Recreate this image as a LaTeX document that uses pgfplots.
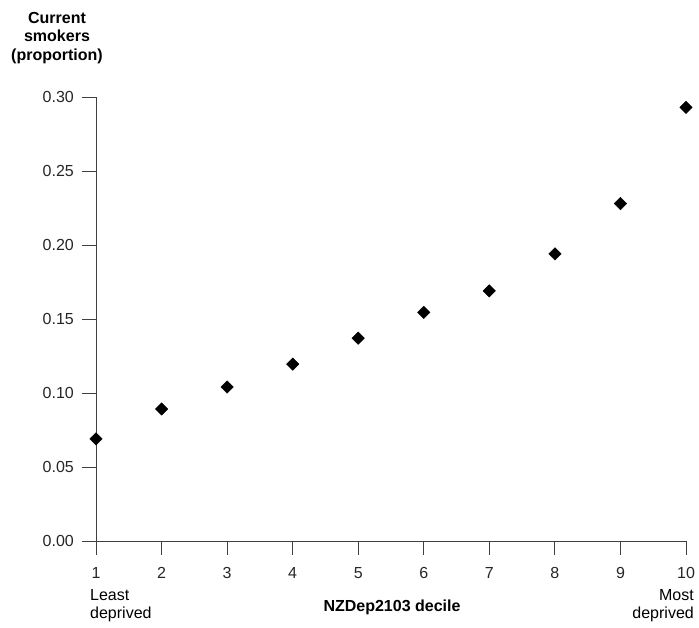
\documentclass[border=0pt]{standalone}
\usepackage{pgfplots}
\pgfplotsset{compat=1.18}
\usepackage{fontspec}
\setmainfont{Liberation Sans}
\definecolor{axgray}{HTML}{404040}
\begin{document}
\begin{tikzpicture}[x=1bp,y=1bp]
\useasboundingbox (0,0) rectangle (699,628);
\begin{axis}[
  at={(96bp,87bp)}, anchor=origin,
  scale only axis, width=590bp, height=444bp,
  xmin=1, xmax=10, ymin=0, ymax=0.30,
  axis x line=bottom, axis y line=left,
  axis line style={axgray, line width=0.9bp, -},
  xtick={1,2,3,4,5,6,7,8,9,10},
  xticklabel={\pgfmathparse{int(round(\tick))}\pgfmathresult},
  ytick={0,0.05,0.10,0.15,0.20,0.25,0.30},
  yticklabels={0.00,0.05,0.10,0.15,0.20,0.25,0.30},
  tick align=outside, major tick length=14bp,
  tick style={axgray, line width=0.9bp},
  ticklabel style={font=\fontsize{16bp}{18bp}\selectfont, text=black!85},
  x tick label style={inner sep=0pt, yshift=-12bp},
  y tick label style={inner sep=0pt, xshift=-8bp},
  clip=false,
]
\addplot[only marks, mark=square*, mark size=4.4bp, mark options={rotate=45, fill=black, draw=black}]
  coordinates {(1,0.069) (2,0.0892) (3,0.104) (4,0.1195) (5,0.137) (6,0.1545) (7,0.169) (8,0.194) (9,0.228) (10,0.293)};
\end{axis}
\node[font=\bfseries\fontsize{16bp}{18.5bp}\selectfont, align=center, anchor=north, inner sep=0pt] at (57,616) {Current\\smokers\\(proportion)};
\node[font=\fontsize{16bp}{18bp}\selectfont, align=left, anchor=north west, inner sep=0pt] at (90,39) {Least\\deprived};
\node[font=\fontsize{16bp}{18bp}\selectfont, align=right, anchor=north east, inner sep=0pt] at (694,39) {Most\\deprived};
\node[font=\bfseries\fontsize{16bp}{18bp}\selectfont, anchor=center] at (392,21) {NZDep2103 decile};
\end{tikzpicture}
\end{document}
